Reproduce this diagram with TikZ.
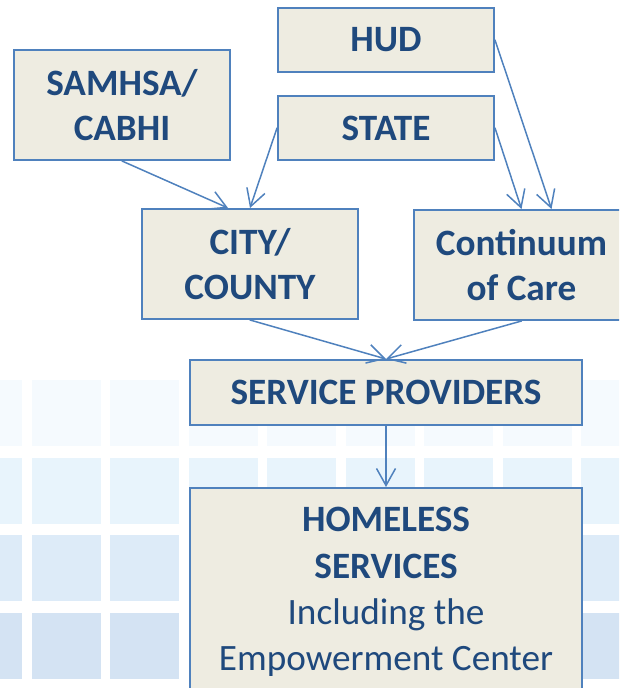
\documentclass[tikz,border=0pt]{standalone}
\usepackage{fontspec}
\setmainfont{Carlito}
\usepackage{tikz}
\usetikzlibrary{arrows.meta}
\definecolor{boxfill}{HTML}{EEECE1}
\definecolor{edge}{HTML}{4F81BD}
\definecolor{ink}{HTML}{1F497D}
\definecolor{tileA}{HTML}{F5FAFE}
\definecolor{tileB}{HTML}{E8F4FC}
\definecolor{tileC}{HTML}{DDEBF8}
\definecolor{tileD}{HTML}{D4E3F3}
\tikzset{
  box/.style={draw=edge, fill=boxfill, line width=1pt, text=ink, align=center,
    font=\fontsize{18.6}{22.5}\selectfont\bfseries, minimum width=108pt, inner sep=0pt},
  link/.style={draw=edge, line width=0.75pt, line cap=round,
    -{Straight Barb[length=8.5pt,width=9.5pt,line width=0.75pt]}},
  tile/.style={line width=0pt},
}

\begin{document}
\begin{tikzpicture}[x=0.5pt,y=-0.5pt]
  \useasboundingbox (0,0) rectangle (619,688);
  \clip (0,0) rectangle (619,688);
  % backdrop tiles
  \foreach \r/\c in {0/tileA,1/tileB,2/tileC,3/tileD}
    \foreach \k in {0,...,8}
      \fill[tile,\c] ({-47+78.5*\k},{380+77.5*\r}) rectangle +(69,66);

  \node[box, minimum height=32pt] (hud) at (386,40) {HUD};
  \node[box, minimum height=55pt] (samhsa) at (122,105) {SAMHSA/\\CABHI};
  \node[box, minimum height=32pt] (state) at (386,128) {STATE};
  \node[box, minimum height=55pt] (city) at (250,264) {CITY/\\COUNTY};
  \node[box, minimum height=55pt] (coc) at (521.5,265) {Continuum\\of Care};
  \node[box, minimum width=196pt, minimum height=32.5pt] (prov) at (386,392.5) {SERVICE PROVIDERS};
  \node[box, minimum width=196pt, minimum height=104pt, font=\fontsize{18.6}{23.2}\selectfont\bfseries]
    (homeless) at (386,592) {HOMELESS\\SERVICES\\{\mdseries Including the}\\{\mdseries Empowerment Center}};

  \draw[link] (samhsa.south) -- ([xshift=-11pt]city.north);
  \draw[link] (state.west) -- (city.north);
  \draw[link] (state.east) -- (coc.north);
  \draw[link] (hud.east) -- ([xshift=15pt]coc.north);
  \draw[link] (city.south) -- (prov.north);
  \draw[link] (coc.south) -- (prov.north);
  \draw[link] (prov.south) -- (homeless.north);
\end{tikzpicture}
\end{document}
